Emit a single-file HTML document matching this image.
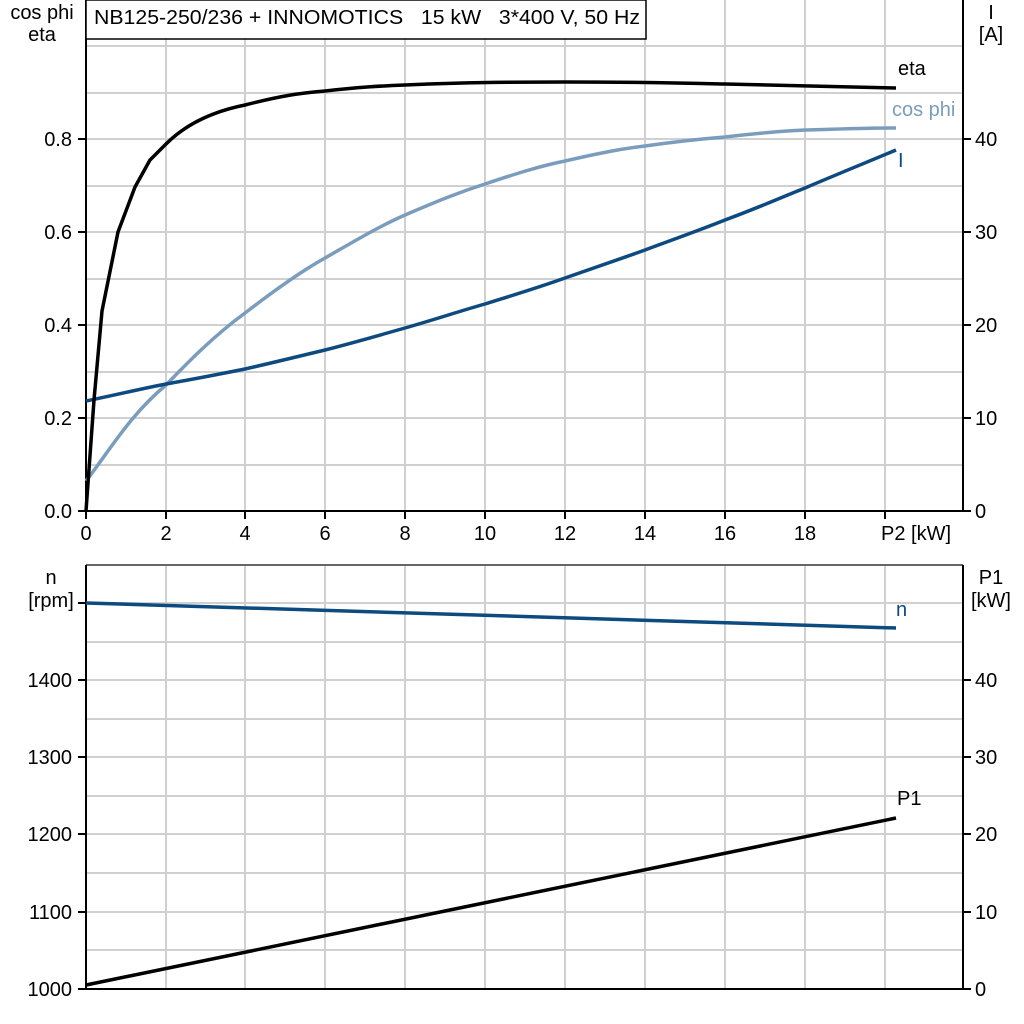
<!DOCTYPE html>
<html><head><meta charset="utf-8"><style>
body{margin:0;background:#fff}
svg{display:block}
text{font-family:"Liberation Sans",Arial,sans-serif;font-size:20px;fill:#000;white-space:pre}
</style></head><body>
<svg width="1024" height="1024" viewBox="0 0 1024 1024" xmlns="http://www.w3.org/2000/svg">
<g stroke="#d0d0d0" stroke-width="2">
<line x1="166" y1="0" x2="166" y2="511"/><line x1="245" y1="0" x2="245" y2="511"/><line x1="325" y1="0" x2="325" y2="511"/><line x1="405" y1="0" x2="405" y2="511"/><line x1="485" y1="0" x2="485" y2="511"/><line x1="565" y1="0" x2="565" y2="511"/><line x1="645" y1="0" x2="645" y2="511"/><line x1="725" y1="0" x2="725" y2="511"/><line x1="805" y1="0" x2="805" y2="511"/><line x1="885" y1="0" x2="885" y2="511"/>
<line x1="86" y1="46" x2="963" y2="46"/><line x1="86" y1="93" x2="963" y2="93"/><line x1="86" y1="139" x2="963" y2="139"/><line x1="86" y1="186" x2="963" y2="186"/><line x1="86" y1="232" x2="963" y2="232"/><line x1="86" y1="279" x2="963" y2="279"/><line x1="86" y1="325" x2="963" y2="325"/><line x1="86" y1="372" x2="963" y2="372"/><line x1="86" y1="418" x2="963" y2="418"/><line x1="86" y1="465" x2="963" y2="465"/>
<line x1="166" y1="565" x2="166" y2="989"/><line x1="245" y1="565" x2="245" y2="989"/><line x1="325" y1="565" x2="325" y2="989"/><line x1="405" y1="565" x2="405" y2="989"/><line x1="485" y1="565" x2="485" y2="989"/><line x1="565" y1="565" x2="565" y2="989"/><line x1="645" y1="565" x2="645" y2="989"/><line x1="725" y1="565" x2="725" y2="989"/><line x1="805" y1="565" x2="805" y2="989"/><line x1="885" y1="565" x2="885" y2="989"/>
<line x1="86" y1="603" x2="963" y2="603"/><line x1="86" y1="642" x2="963" y2="642"/><line x1="86" y1="680" x2="963" y2="680"/><line x1="86" y1="719" x2="963" y2="719"/><line x1="86" y1="757" x2="963" y2="757"/><line x1="86" y1="796" x2="963" y2="796"/><line x1="86" y1="834" x2="963" y2="834"/><line x1="86" y1="873" x2="963" y2="873"/><line x1="86" y1="912" x2="963" y2="912"/><line x1="86" y1="950" x2="963" y2="950"/>
</g>
<line x1="86" y1="565" x2="963" y2="565" stroke="#666" stroke-width="2"/>
<g stroke="#000" stroke-width="2" fill="none">
<line x1="86" y1="0" x2="86" y2="512"/><line x1="85" y1="511" x2="964" y2="511"/><line x1="963" y1="0" x2="963" y2="512"/>
<line x1="86" y1="565" x2="86" y2="990"/><line x1="85" y1="989" x2="964" y2="989"/><line x1="963" y1="565" x2="963" y2="990"/>
<path d="M78 139h8M78 232h8M78 325h8M78 418h8M78 511h8M963 139h8M963 232h8M963 325h8M963 418h8M963 511h8M86 511v8M166 511v8M245 511v8M325 511v8M405 511v8M485 511v8M565 511v8M645 511v8M725 511v8M805 511v8M885 511v8M78 603h8M78 680h8M78 757h8M78 834h8M78 912h8M78 989h8M963 680h8M963 757h8M963 834h8M963 912h8M963 989h8"/>
</g>
<rect x="86" y="0" width="560" height="39" fill="#fff" stroke="#000" stroke-width="1.5"/>
<text x="94" y="24" xml:space="preserve" textLength="546" lengthAdjust="spacingAndGlyphs">NB125-250/236 + INNOMOTICS   15 kW   3*400 V, 50 Hz</text>
<g fill="none" stroke-width="3.5" stroke-linejoin="round">
<path stroke="#7a9dbd" d="M86 481 C110 450 130 415 166 385 C190 360 215 335 245 313 C275 290 300 272 325 258 C360 238 380 226 405 215 C440 200 460 192 485 184 C515 174 540 166 565 161 C600 153 620 149 645 146 C680 141 700 139 725 137 C760 133 780 131 805 130 C840 129 870 128 896 128"/>
<path stroke="#0d4a80" d="M86 401 C120 394 140 389 166 384 C200 378 220 374 245 369 C280 361 300 356 325 350 C360 341 380 335 405 328 C440 318 460 311 485 304 C520 293 540 287 565 278 C600 266 620 259 645 250 C680 237 700 230 725 220 C760 207 780 198 805 188 C840 173 870 161 896 150"/>
<path stroke="#000" d="M86 511 L94 400 L102 311 L118 232 L135 187 L150 160 L166 144 C185 125 210 112 245 105 C280 96 300 93 325 91 C360 87 380 86 405 85 C450 83 500 82 565 82 C640 82 680 83 725 84 C790 86 850 87 896 88"/>
<path stroke="#0d4a80" d="M86 603 L896 628"/>
<path stroke="#000" d="M86 985 L896 818"/>
</g>
<g text-anchor="end">
<text x="72" y="146">0.8</text><text x="72" y="239">0.6</text><text x="72" y="332">0.4</text><text x="72" y="425">0.2</text><text x="72" y="518">0.0</text>
<text x="72" y="687">1400</text><text x="72" y="764">1300</text><text x="72" y="841">1200</text><text x="72" y="919">1100</text><text x="72" y="996">1000</text>
</g>
<g>
<text x="975" y="146">40</text><text x="975" y="239">30</text><text x="975" y="332">20</text><text x="975" y="425">10</text><text x="975" y="518">0</text>
<text x="975" y="687">40</text><text x="975" y="764">30</text><text x="975" y="841">20</text><text x="975" y="919">10</text><text x="975" y="996">0</text>
</g>
<g text-anchor="middle">
<text x="86" y="540">0</text><text x="166" y="540">2</text><text x="245" y="540">4</text><text x="325" y="540">6</text><text x="405" y="540">8</text><text x="485" y="540">10</text><text x="565" y="540">12</text><text x="645" y="540">14</text><text x="725" y="540">16</text><text x="805" y="540">18</text>
<text x="42" y="19">cos phi</text><text x="42" y="41">eta</text>
<text x="991" y="19">I</text><text x="991" y="41">[A]</text>
<text x="51" y="584">n</text><text x="51" y="607">[rpm]</text>
<text x="991" y="584">P1</text><text x="991" y="607">[kW]</text>
</g>
<text x="881" y="540">P2 [kW]</text>
<text x="898" y="75">eta</text>
<text x="892" y="116" style="fill:#7a9dbd">cos phi</text>
<text x="898" y="167" style="fill:#0d4a80">I</text>
<text x="896" y="616" style="fill:#0d4a80">n</text>
<text x="897" y="805">P1</text>
</svg>
</body></html>
